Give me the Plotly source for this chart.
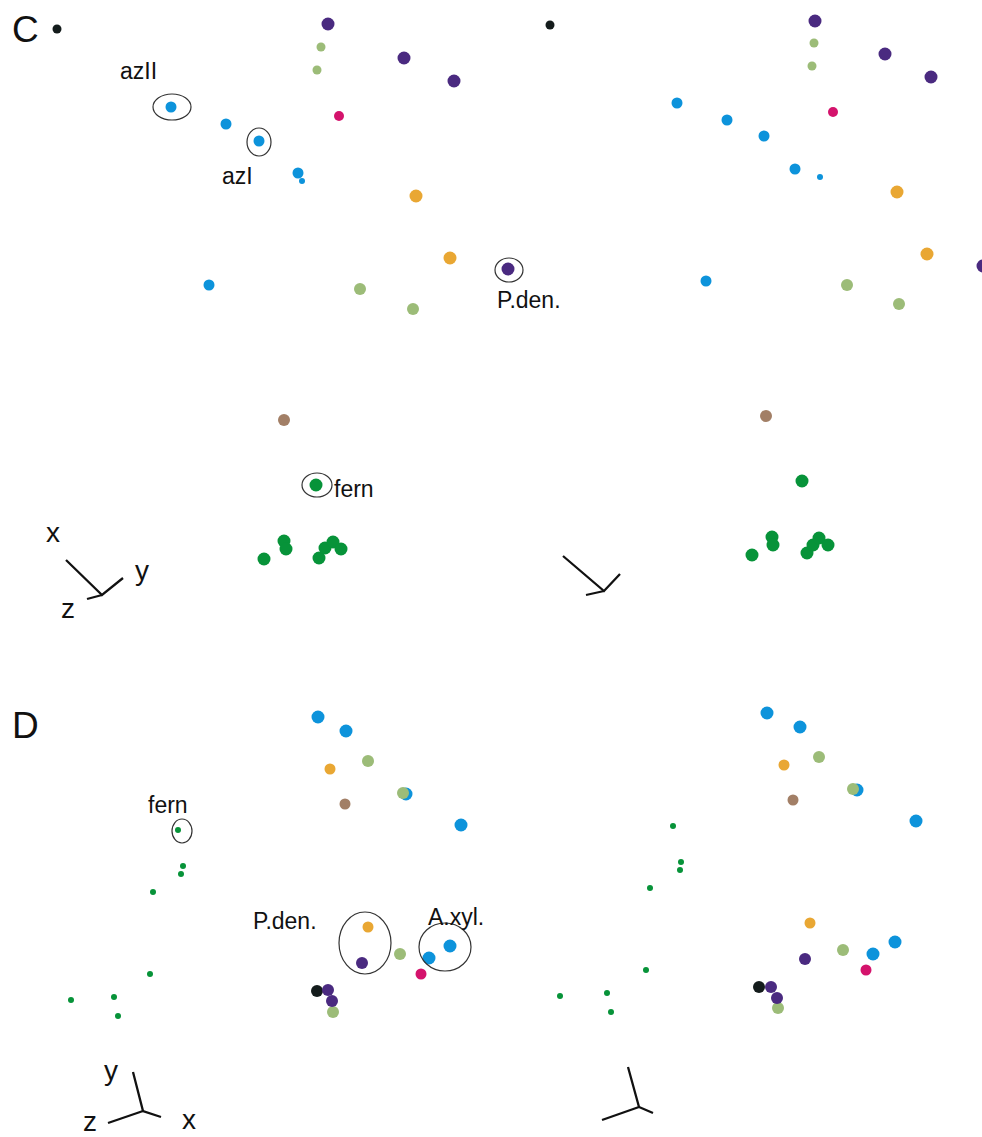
import plotly.graph_objects as go

# ---------------- Panel C (stereo pair) ----------------
C_BLUE_X = [171, 226, 259, 298, 209, 677, 727, 764, 795, 706]
C_BLUE_Y = [107, 124, 141, 173, 285, 103, 120, 136, 169, 281]
C_BLUE_SMALL_X = [302, 820]
C_BLUE_SMALL_Y = [181, 177]
C_BLACK_X = [57, 550]
C_BLACK_Y = [29, 25]
C_LGREEN_SMALL_X = [321, 317, 814, 812]
C_LGREEN_SMALL_Y = [47, 70, 43, 66]
C_LGREEN_X = [360, 413, 847, 899]
C_LGREEN_Y = [289, 309, 285, 304]
C_ORANGE_X = [416, 450, 897, 927]
C_ORANGE_Y = [196, 258, 192, 254]
C_BROWN_X = [284, 766]
C_BROWN_Y = [420, 416]
C_MAGENTA_X = [339, 833]
C_MAGENTA_Y = [116, 112]
C_PURPLE_X = [328, 404, 454, 508, 815, 885, 931, 983]
C_PURPLE_Y = [24, 58, 81, 269, 21, 54, 77, 266]
C_FERN_X = [316, 264, 284, 286, 319, 325, 333, 341, 802, 752, 772, 773, 807, 813, 819, 828]
C_FERN_Y = [485, 559, 541, 549, 558, 548, 542, 549, 481, 555, 537, 545, 553, 545, 538, 545]

# ---------------- Panel D (stereo pair) ----------------
D_BLUE_X = [318, 346, 461, 406, 450, 429, 767, 800, 916, 857, 895, 873]
D_BLUE_Y = [717, 731, 825, 794, 946, 958, 713, 727, 821, 790, 942, 954]
D_BLACK_X = [317, 759]
D_BLACK_Y = [991, 987]
D_LGREEN_X = [368, 403, 400, 333, 819, 853, 843, 778]
D_LGREEN_Y = [761, 793, 954, 1012, 757, 789, 950, 1008]
D_ORANGE_X = [330, 368, 784, 810]
D_ORANGE_Y = [769, 927, 765, 923]
D_BROWN_X = [345, 793]
D_BROWN_Y = [804, 800]
D_MAGENTA_X = [421, 866]
D_MAGENTA_Y = [974, 970]
D_PURPLE_X = [362, 328, 332, 805, 771, 777]
D_PURPLE_Y = [963, 990, 1001, 959, 987, 998]
D_FERN_X = [178, 183, 181, 153, 150, 71, 114, 118, 673, 681, 680, 650, 646, 560, 607, 611]
D_FERN_Y = [830, 866, 874, 892, 974, 1000, 997, 1016, 826, 862, 870, 888, 970, 996, 993, 1012]

# ---------------- Highlight ellipses (center x, center y, rx, ry) ----------------
ELL_CX = [172, 259, 509, 317, 182, 365, 445]
ELL_CY = [107, 142, 270, 485, 831, 943, 947]
ELL_RX = [19, 12, 14, 15, 10, 26, 26]
ELL_RY = [13, 14, 12, 12, 12, 31, 24]

# ---------------- Labels ----------------
LBL_TEXT = ["azII", "azI", "P.den.", "fern", "fern", "P.den.", "A.xyl."]
LBL_X = [138, 237, 529, 354, 168, 285, 456]
LBL_Y = [71, 176, 300, 489, 805, 921, 917]

PANEL_TEXT = ["C", "D"]
PANEL_X = [25, 25]
PANEL_Y = [29, 725]

AXL_TEXT = ["x", "y", "z", "y", "z", "x"]
AXL_X = [53, 142, 68, 111, 90, 189]
AXL_Y = [532, 570, 608, 1070, 1121, 1119]

# ---------------- Orientation triads (segments, None separates) ----------------
TRIAD_X = [66, 102, 123, None, 102, 87, None,
           563, 604, 620, None, 604, 586, None,
           133, 143, 161, None, 143, 108, None,
           628, 639, 653, None, 639, 602]
TRIAD_Y = [560, 595, 578, None, 595, 599, None,
           556, 591, 574, None, 591, 595, None,
           1072, 1111, 1117, None, 1111, 1123, None,
           1067, 1107, 1113, None, 1107, 1120]

BLUE = "#0d93db"
BLACK = "#141c1c"
LGREEN = "#9cbc78"
ORANGE = "#e9a733"
BROWN = "#a27f66"
MAGENTA = "#d4136c"
PURPLE = "#4a2a80"
GREEN = "#079339"

fig = go.Figure()


def dots(x, y, color, size):
    fig.add_trace(go.Scatter(x=x, y=y, mode="markers",
                             marker=dict(color=color, size=size, line=dict(width=0)),
                             hoverinfo="skip", showlegend=False))


# panel C
dots(C_BLUE_X, C_BLUE_Y, BLUE, 11)
dots(C_BLUE_SMALL_X, C_BLUE_SMALL_Y, BLUE, 6)
dots(C_BLACK_X, C_BLACK_Y, BLACK, 9)
dots(C_LGREEN_SMALL_X, C_LGREEN_SMALL_Y, LGREEN, 9)
dots(C_LGREEN_X, C_LGREEN_Y, LGREEN, 12)
dots(C_ORANGE_X, C_ORANGE_Y, ORANGE, 13)
dots(C_BROWN_X, C_BROWN_Y, BROWN, 12)
dots(C_MAGENTA_X, C_MAGENTA_Y, MAGENTA, 10)
dots(C_PURPLE_X, C_PURPLE_Y, PURPLE, 13)
dots(C_FERN_X, C_FERN_Y, GREEN, 13)

# panel D
dots(D_BLUE_X, D_BLUE_Y, BLUE, 13)
dots(D_BLACK_X, D_BLACK_Y, BLACK, 12)
dots(D_LGREEN_X, D_LGREEN_Y, LGREEN, 12)
dots(D_ORANGE_X, D_ORANGE_Y, ORANGE, 11)
dots(D_BROWN_X, D_BROWN_Y, BROWN, 11)
dots(D_MAGENTA_X, D_MAGENTA_Y, MAGENTA, 11)
dots(D_PURPLE_X, D_PURPLE_Y, PURPLE, 12)
dots(D_FERN_X, D_FERN_Y, GREEN, 6)

# triads
fig.add_trace(go.Scatter(x=TRIAD_X, y=TRIAD_Y, mode="lines",
                         line=dict(color="#111111", width=2.3),
                         hoverinfo="skip", showlegend=False))

# ellipses
for cx, cy, rx, ry in zip(ELL_CX, ELL_CY, ELL_RX, ELL_RY):
    fig.add_shape(type="circle", xref="x", yref="y",
                  x0=cx - rx, x1=cx + rx, y0=cy - ry, y1=cy + ry,
                  line=dict(color="#333333", width=1.2))

FONT = "Liberation Sans, Arial, Helvetica, sans-serif"
for t, x, y in zip(LBL_TEXT, LBL_X, LBL_Y):
    fig.add_annotation(x=x, y=y, text=t, showarrow=False, xref="x", yref="y",
                       xanchor="center", yanchor="middle",
                       font=dict(family=FONT, size=23, color="#111111"))
for t, x, y in zip(PANEL_TEXT, PANEL_X, PANEL_Y):
    fig.add_annotation(x=x, y=y, text=t, showarrow=False, xref="x", yref="y",
                       xanchor="center", yanchor="middle",
                       font=dict(family=FONT, size=37, color="#111111"))
for t, x, y in zip(AXL_TEXT, AXL_X, AXL_Y):
    fig.add_annotation(x=x, y=y, text=t, showarrow=False, xref="x", yref="y",
                       xanchor="center", yanchor="middle", borderpad=0,
                       font=dict(family=FONT, size=28, color="#111111"))

fig.update_xaxes(range=[0, 982], visible=False, fixedrange=True)
fig.update_yaxes(range=[1137, 0], visible=False, fixedrange=True)
fig.update_layout(width=982, height=1137, margin=dict(l=0, r=0, t=0, b=0),
                  paper_bgcolor="white", plot_bgcolor="white", showlegend=False)

fig.write_html("out.html", config={"displayModeBar": False},
               post_script="document.body.style.margin='0';document.body.style.overflow='hidden';")
